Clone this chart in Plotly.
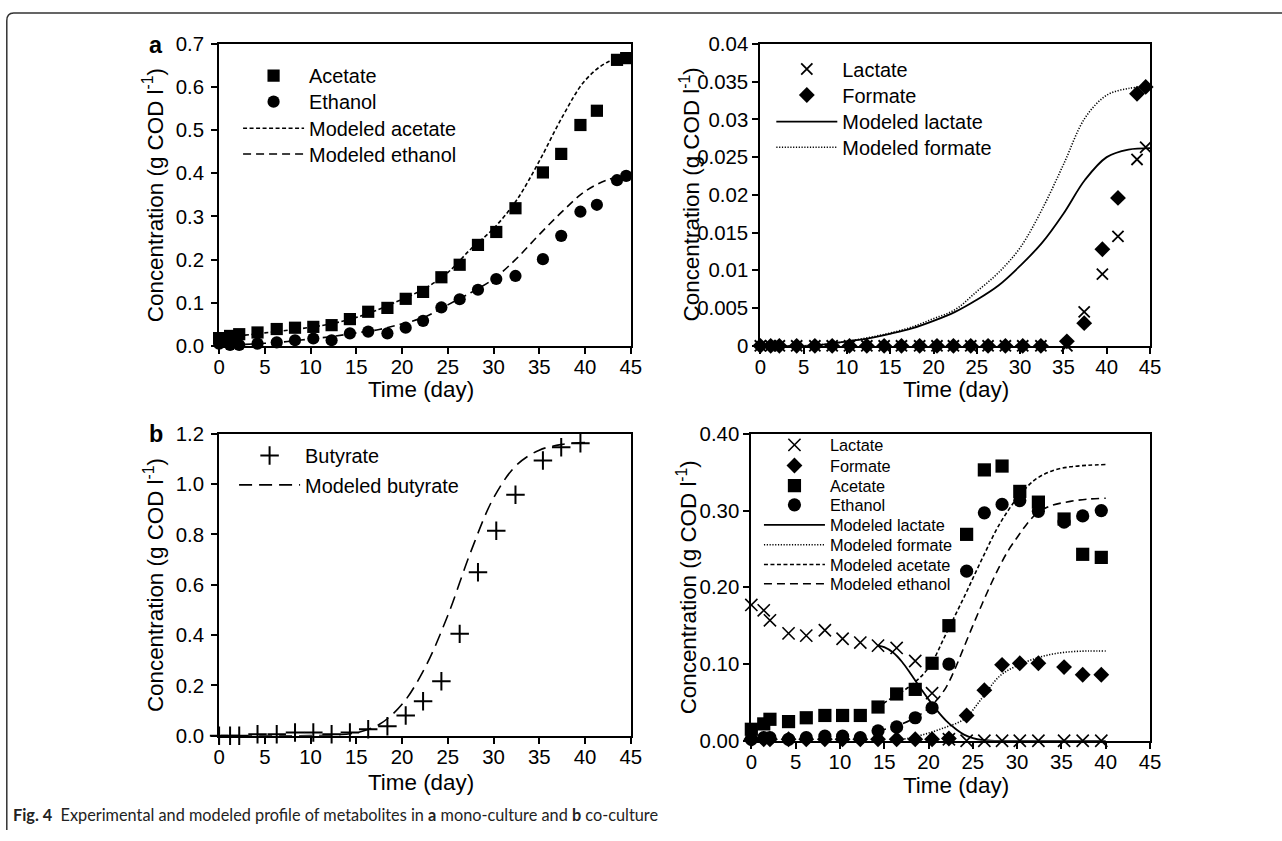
import plotly.graph_objects as go

W, H = 1282, 841
FONT = "Liberation Sans, Arial, sans-serif"

# ---------------- data ----------------
# (a) mono-culture, left: acetate & ethanol
t_mono = [0, 1.2, 2.2, 4.2, 6.3, 8.3, 10.3, 12.3, 14.3, 16.3, 18.4, 20.4, 22.3, 24.3,
          26.3, 28.3, 30.3, 32.4, 35.4, 37.4, 39.5, 41.3, 43.5, 44.5]
acetate_mono = [0.018, 0.023, 0.027, 0.031, 0.039, 0.042, 0.044, 0.048, 0.062, 0.079, 0.088,
                0.109, 0.125, 0.159, 0.188, 0.234, 0.264, 0.319, 0.402, 0.445, 0.512, 0.545,
                0.663, 0.667]
ethanol_mono = [0.005, 0.002, 0.002, 0.005, 0.008, 0.013, 0.017, 0.013, 0.029, 0.033, 0.029,
                0.042, 0.058, 0.089, 0.108, 0.130, 0.155, 0.162, 0.201, 0.255, 0.311, 0.327,
                0.384, 0.394]
# (a) mono-culture, right: lactate & formate
lactate_mono = [0, 0, 0, 0, 0, 0, 0, 0, 0, 0, 0, 0, 0, 0, 0, 0, 0, 0,
                0.0, 0.0045, 0.0095, 0.0145, 0.0247, 0.0263]
formate_mono = [0, 0, 0, 0, 0, 0, 0, 0, 0, 0, 0, 0, 0, 0, 0, 0, 0, 0,
                0.0006, 0.0030, 0.0128, 0.0196, 0.0334, 0.0343]

t_model_mono = [0, 2.5, 5, 7.5, 10, 12.5, 15, 17.5, 20, 22.5, 25, 27.5, 30, 32.5, 35, 37.5,
                40, 42.5, 45]
model_acetate_mono = [0.018, 0.024, 0.030, 0.036, 0.043, 0.052, 0.066, 0.085, 0.108, 0.133,
                      0.170, 0.224, 0.272, 0.337, 0.428, 0.530, 0.615, 0.658, 0.668]
model_ethanol_mono = [0.000, 0.003, 0.006, 0.010, 0.016, 0.022, 0.030, 0.038, 0.051, 0.067,
                      0.095, 0.123, 0.155, 0.202, 0.258, 0.311, 0.358, 0.385, 0.396]
model_lactate_mono = [0, 0, 0, 0.0002, 0.0006, 0.0010, 0.0016, 0.0023, 0.0033, 0.0045,
                      0.0061, 0.0080, 0.0106, 0.0136, 0.0175, 0.0220, 0.0250, 0.0260, 0.0262]
model_formate_mono = [0, 0, 0, 0.0002, 0.0006, 0.0011, 0.0017, 0.0025, 0.0036, 0.0048,
                      0.0072, 0.0097, 0.0130, 0.0180, 0.0240, 0.0302, 0.0332, 0.0341, 0.0343]

# (b) co-culture, left: butyrate
t_co = [0, 1.2, 2.2, 4.2, 6.3, 8.3, 10.3, 12.3, 14.3, 16.3, 18.4, 20.4, 22.3, 24.3, 26.3,
        28.3, 30.3, 32.4, 35.4, 37.4, 39.5]
butyrate_co = [0.0, 0.0, 0.0, 0.006, 0.006, 0.013, 0.013, 0.006, 0.013, 0.026, 0.038, 0.081,
               0.137, 0.217, 0.405, 0.650, 0.815, 0.958, 1.094, 1.147, 1.163]
t_model_but = [0, 2.5, 5, 7.5, 10, 12.5, 15, 17.5, 20, 22.5, 25, 27.5, 30, 32.5, 35, 37.5, 40]
model_butyrate = [0, 0, 0, 0, 0.001, 0.003, 0.012, 0.045, 0.125, 0.270, 0.478, 0.730, 0.945,
                  1.075, 1.135, 1.158, 1.165]

# (b) co-culture, right
t_co2 = [0, 1.4, 2.1, 4.2, 6.2, 8.3, 10.3, 12.3, 14.3, 16.4, 18.5, 20.4, 22.3, 24.3, 26.3,
         28.3, 30.3, 32.4, 35.3, 37.4, 39.5]
lactate_co = [0.177, 0.170, 0.157, 0.140, 0.137, 0.144, 0.133, 0.128, 0.124, 0.121, 0.104,
              0.062, 0.002, 0.0, 0.0, 0.0, 0.0, 0.0, 0.0, 0.0, 0.0]
formate_co = [0.002, 0.002, 0.002, 0.002, 0.002, 0.002, 0.002, 0.002, 0.002, 0.002, 0.002,
              0.002, 0.003, 0.033, 0.066, 0.099, 0.101, 0.101, 0.096, 0.086, 0.086]
acetate_co = [0.015, 0.022, 0.028, 0.025, 0.030, 0.033, 0.033, 0.033, 0.044, 0.061, 0.067,
              0.101, 0.150, 0.269, 0.353, 0.358, 0.325, 0.311, 0.289, 0.243, 0.239]
ethanol_co = [0.002, 0.004, 0.004, 0.002, 0.004, 0.006, 0.006, 0.004, 0.013, 0.018, 0.030,
              0.043, 0.100, 0.221, 0.297, 0.308, 0.313, 0.299, 0.285, 0.293, 0.300]

t_model_lac_co = [14.3, 15, 16, 17, 18, 19, 20, 21, 22, 23, 24, 25, 26, 27, 28, 30, 35, 40]
model_lactate_co = [0.124, 0.122, 0.115, 0.103, 0.087, 0.070, 0.054, 0.039, 0.026, 0.016,
                    0.008, 0.0035, 0.001, 0.0003, 0, 0, 0, 0]
t_model_for_co = [16, 18, 20, 22, 24, 26, 28, 30, 32, 34, 36, 38, 40]
model_formate_co = [0.0, 0.004, 0.010, 0.018, 0.028, 0.055, 0.084, 0.098, 0.107, 0.113,
                    0.116, 0.117, 0.117]
t_model_ace_co = [14.3, 16, 18, 20, 22, 24, 26, 28, 30, 32, 34, 36, 38, 40]
model_acetate_co = [0.044, 0.057, 0.072, 0.095, 0.140, 0.187, 0.236, 0.282, 0.316, 0.340,
                    0.352, 0.357, 0.359, 0.360]
t_model_eth_co = [14.3, 16, 18, 20, 21, 22, 23, 24, 25, 26, 27, 28, 29, 30, 31, 32, 33, 34,
                  36, 38, 40]
model_ethanol_co = [0.013, 0.018, 0.027, 0.042, 0.054, 0.070, 0.094, 0.122, 0.150, 0.177,
                    0.203, 0.227, 0.248, 0.265, 0.281, 0.294, 0.302, 0.307, 0.312, 0.315,
                    0.316]

x_ticks = [0, 5, 10, 15, 20, 25, 30, 35, 40, 45]

# ------------- layout helpers -------------
# The captured picture shows the page slightly shrunk around its centre, so target
# positions (in picture pixels) are mapped back to page pixels before use.
SX, OX = 0.99, 5.2
SY, OY = 0.974, 10.1
FS = 1 / 0.982  # font / marker compensation


def inv_x(tx):
    return (tx - OX) / SX


def inv_y(ty):
    return (ty - OY) / SY


def px(tx):
    return inv_x(tx) / W


def py(ty):
    return 1 - inv_y(ty) / H


def f(size):
    return round(size * FS, 1)


fig = go.Figure()

DASH_SHORT = "4px,2.5px"
DASH_MED = "8px,5px"
DASH_LONG = "13px,7px"
DASH_DOT = "1.2px,1.6px"

legends = {}
LEG_FONT_BIG = f(19.5)
LEG_FONT_SMALL = f(16)


def add_legend(key, marker_x, row_y, fsize):
    # one legend box per entry so every row sits where the reference puts it
    offset = 7.5 + (1.3 * fsize + 3) / 2
    legends[key] = dict(x=(inv_x(marker_x) - 34) / W, y=1 - (inv_y(row_y) - offset) / H,
                        xanchor="left", yanchor="top", bgcolor="rgba(0,0,0,0)",
                        borderwidth=0, itemwidth=61, xref="paper", yref="paper",
                        font=dict(family=FONT, size=fsize, color="black"))


def line_trace(x, y, name, dash, xa, ya, leg, width=1.6):
    fig.add_trace(go.Scatter(
        x=x, y=y, name=name, mode="lines", xaxis=xa, yaxis=ya, legend=leg,
        line=dict(color="black", width=width, dash=dash, shape="spline"),
        hoverinfo="skip"))


def marker_trace(x, y, name, symbol, size, xa, ya, leg, lw=0):
    fig.add_trace(go.Scatter(
        x=x, y=y, name=name, mode="markers", xaxis=xa, yaxis=ya, legend=leg,
        cliponaxis=False,
        marker=dict(symbol=symbol, size=f(size), color="black",
                    line=dict(color="black", width=lw))))


# panel 1 (top-left)
line_trace(t_model_mono, model_acetate_mono, "Modeled acetate", DASH_SHORT, "x", "y", "legend3")
line_trace(t_model_mono, model_ethanol_mono, "Modeled ethanol", DASH_MED, "x", "y", "legend4")
marker_trace(t_mono, acetate_mono, "Acetate", "square", 12, "x", "y", "legend")
marker_trace(t_mono, ethanol_mono, "Ethanol", "circle", 12, "x", "y", "legend2")
add_legend("legend", 271.7, 76.7, LEG_FONT_BIG)
add_legend("legend2", 271.7, 102.7, LEG_FONT_BIG)
add_legend("legend3", 271.7, 129.3, LEG_FONT_BIG)
add_legend("legend4", 271.7, 155.0, LEG_FONT_BIG)

# panel 2 (top-right)
line_trace(t_model_mono, model_lactate_mono, "Modeled lactate", "solid", "x2", "y2", "legend7", 1.8)
line_trace(t_model_mono, model_formate_mono, "Modeled formate", DASH_DOT, "x2", "y2", "legend8")
marker_trace(t_mono, lactate_mono, "Lactate", "x-thin", 11, "x2", "y2", "legend5", 1.8)
marker_trace(t_mono, formate_mono, "Formate", "diamond", 12, "x2", "y2", "legend6")
add_legend("legend5", 806.7, 70.0, LEG_FONT_BIG)
add_legend("legend6", 806.7, 96.0, LEG_FONT_BIG)
add_legend("legend7", 806.7, 122.7, LEG_FONT_BIG)
add_legend("legend8", 806.7, 148.3, LEG_FONT_BIG)

# panel 3 (bottom-left)
line_trace(t_model_but, model_butyrate, "Modeled butyrate", DASH_LONG, "x3", "y3", "legend10")
marker_trace(t_co, butyrate_co, "Butyrate", "cross-thin", 13, "x3", "y3", "legend9", 2)
add_legend("legend9", 267.7, 456.7, LEG_FONT_BIG)
add_legend("legend10", 267.7, 486.0, LEG_FONT_BIG)

# panel 4 (bottom-right)
line_trace(t_model_lac_co, model_lactate_co, "Modeled lactate", "solid", "x4", "y4", "legend15", 1.8)
line_trace(t_model_for_co, model_formate_co, "Modeled formate", DASH_DOT, "x4", "y4", "legend16")
line_trace(t_model_ace_co, model_acetate_co, "Modeled acetate", DASH_SHORT, "x4", "y4", "legend17")
line_trace(t_model_eth_co, model_ethanol_co, "Modeled ethanol", DASH_MED, "x4", "y4", "legend18")
marker_trace(t_co2, lactate_co, "Lactate", "x-thin", 12, "x4", "y4", "legend11", 1.6)
marker_trace(t_co2, formate_co, "Formate", "diamond", 12, "x4", "y4", "legend12")
marker_trace(t_co2, acetate_co, "Acetate", "square", 13, "x4", "y4", "legend13")
marker_trace(t_co2, ethanol_co, "Ethanol", "circle", 13, "x4", "y4", "legend14")
for i, ry in enumerate([446.0, 466.7, 486.7, 506.0, 526.0, 546.0, 565.7, 585.0]):
    add_legend("legend%d" % (11 + i), 794.3, ry, LEG_FONT_SMALL)

# ---------------- axes ----------------
TICKFONT = dict(family=FONT, size=f(20), color="black")


def xax(domain, anchor):
    return dict(domain=domain, anchor=anchor, range=[0, 45], tickvals=x_ticks,
                showline=True, linecolor="black", linewidth=2, mirror=True,
                ticks="outside", ticklen=6, tickwidth=2, tickcolor="black",
                ticklabelstandoff=-4,
                showgrid=False, zeroline=False, tickfont=TICKFONT, fixedrange=True)


def yax(domain, anchor, rng, dtick, fmt, standoff):
    return dict(domain=domain, anchor=anchor, range=rng, dtick=dtick, tick0=0,
                tickformat=fmt, showline=True, linecolor="black", linewidth=2,
                mirror=True, ticks="outside", ticklen=6, tickwidth=2, tickcolor="black",
                ticklabelstandoff=standoff,
                showgrid=False, zeroline=False, tickfont=TICKFONT, fixedrange=True)


top_dom = [py(345), py(43)]
botL_dom = [py(735), py(433)]
botR_dom = [py(740), py(433)]
left_dom = [px(219), px(632)]
tr_dom = [px(762), px(1153)]
br_dom = [px(753), px(1153)]

fig.update_layout(
    width=W, height=H, margin=dict(l=0, r=0, t=0, b=0),
    paper_bgcolor="white", plot_bgcolor="white",
    font=dict(family=FONT, color="black"),
    showlegend=True,
    xaxis=xax(left_dom, "y"),
    yaxis=yax(top_dom, "x", [0, 0.7], 0.1, ".1f", 3),
    xaxis2=xax(tr_dom, "y2"),
    yaxis2=yax(top_dom, "x2", [0, 0.04], 0.005, "", 0),
    xaxis3=xax(left_dom, "y3"),
    yaxis3=yax(botL_dom, "x3", [0, 1.2], 0.2, ".1f", 3),
    xaxis4=xax(br_dom, "y4"),
    yaxis4=yax(botR_dom, "x4", [0, 0.4], 0.1, ".2f", 0),
    **legends,
)

# ---------------- text ----------------
YTITLE = "Concentration (g COD l<sup>-1</sup>)"
ann = []
for (xp, yp) in [(153, 194), (691, 194), (153, 584), (688, 587)]:
    ann.append(dict(text=YTITLE, x=px(xp), y=py(yp), xref="paper", yref="paper",
                    textangle=-90, showarrow=False, xanchor="center", yanchor="middle",
                    font=dict(family=FONT, size=f(22), color="black")))
for (xp, yp) in [(422, 389), (958, 389), (422, 782), (958, 785)]:
    ann.append(dict(text="Time (day)", x=px(xp), y=py(yp), xref="paper", yref="paper",
                    showarrow=False, xanchor="center", yanchor="middle",
                    font=dict(family=FONT, size=f(22), color="black")))
for (lab, xp, yp) in [("a", 156, 44), ("b", 156, 433)]:
    ann.append(dict(text="<b>" + lab + "</b>", x=px(xp), y=py(yp), xref="paper",
                    yref="paper", showarrow=False, xanchor="center", yanchor="middle",
                    font=dict(family=FONT, size=f(23), color="black")))
ann.append(dict(text="<b>Fig. 4</b>  Experimental and modeled profile of metabolites in "
                     "<b>a</b> mono-culture and <b>b</b> co-culture",
                x=px(10), y=py(814), xref="paper", yref="paper", showarrow=False,
                xanchor="left", yanchor="middle",
                font=dict(family="Lato, Noto Sans, sans-serif", size=16.3, color="#222")))
fig.update_layout(annotations=ann)

# frame with rounded top-left corner
r = 8
x0 = max(inv_x(5), 0.8) / W
ytop = 1 - inv_y(12) / H
xr = (inv_x(5) + r) / W
ybend = 1 - (inv_y(12) + r) / H
path = (f"M {x0},0 L {x0},{ybend} Q {x0},{ytop} {xr},{ytop} L 1.01,{ytop}")
fig.add_shape(type="path", path=path, xref="paper", yref="paper",
              line=dict(color="#333", width=1.5))

fig.write_html("out.html", config={"displayModeBar": False},
               post_script="document.body.style.margin='0px';")
